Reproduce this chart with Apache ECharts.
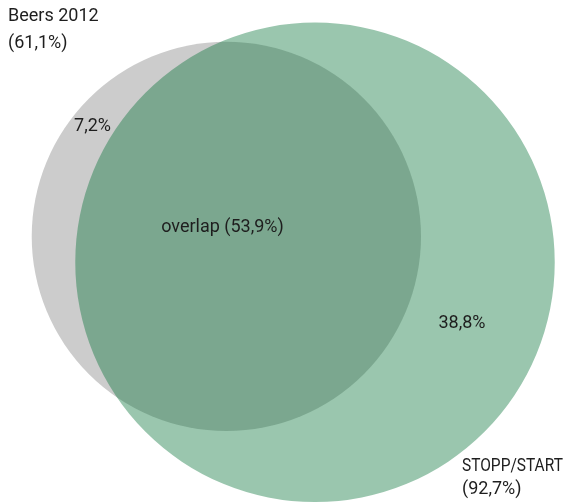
<!DOCTYPE html>
<html>
<head>
<meta charset="utf-8">
<script src="https://cdn.jsdelivr.net/npm/echarts@6/dist/echarts.min.js"></script>
<style>
html,body{margin:0;padding:0;background:#fff;}
#chart{width:563px;height:503px;}
</style>
</head>
<body>
<div id="chart"></div>
<script>
// ---- data ----
const setNames = ['Beers 2012', 'STOPP/START'];
const setPercents = [61.1, 92.7];
const overlapPercent = 53.9;
const overlapName = 'overlap';

// ---- helpers ----
function fmt(v) { return v.toFixed(1).replace('.', ','); }
function lensArea(r1, r2, d) {
  if (d >= r1 + r2) return 0;
  if (d <= Math.abs(r1 - r2)) return Math.PI * Math.min(r1, r2) ** 2;
  const a1 = Math.acos((d * d + r1 * r1 - r2 * r2) / (2 * d * r1));
  const a2 = Math.acos((d * d + r2 * r2 - r1 * r1) / (2 * d * r2));
  const t = Math.sqrt((-d + r1 + r2) * (d + r1 - r2) * (d - r1 + r2) * (d + r1 + r2));
  return r1 * r1 * a1 + r2 * r2 * a2 - 0.5 * t;
}

// area-proportional layout: circle area = PI * percent
const radii = setPercents.map(p => Math.sqrt(p));
const target = Math.PI * overlapPercent;
let lo = Math.abs(radii[0] - radii[1]), hi = radii[0] + radii[1];
for (let i = 0; i < 100; i++) {
  const mid = (lo + hi) / 2;
  if (lensArea(radii[0], radii[1], mid) > target) lo = mid; else hi = mid;
}
const dist = (lo + hi) / 2;
const angle = 16.3 * Math.PI / 180;
const centers = [
  [-dist * Math.cos(angle), dist * Math.sin(angle)],
  [0, 0]
];
const circleData = centers.map((c, i) => [c[0], c[1], radii[i], i]);

// pixel scale / placement (layout only)
const k = 24.9, cx = 315.0, cy = 262.3, W = 563, H = 503;

const chart = echarts.init(document.getElementById('chart'), null, { renderer: 'canvas' });
const fills = ['#cccccc', 'rgba(3,112,52,0.4)'];
const txt = '#1e1e1e';
const font = 'Roboto, sans-serif';
const fs = 18;

function label(text, x, y, align, sx) {
  return {
    type: 'text', x: x, y: y, z: 100, silent: true,
    scaleX: sx || 1,
    style: { text: text, fill: txt, font: fs + 'px ' + font, textAlign: align || 'left', textVerticalAlign: 'middle' }
  };
}

chart.setOption({
  animation: false,
  grid: { left: 0, top: 0, right: 0, bottom: 0, containLabel: false },
  xAxis: { type: 'value', min: -cx / k, max: (W - cx) / k, show: false },
  yAxis: { type: 'value', min: -(H - cy) / k, max: cy / k, show: false },
  series: [{
    type: 'custom',
    coordinateSystem: 'cartesian2d',
    z: 1,
    data: circleData,
    renderItem: function (params, api) {
      const c = api.coord([api.value(0), api.value(1)]);
      const r = api.size([api.value(2), 0])[0];
      return {
        type: 'circle',
        shape: { cx: c[0], cy: c[1], r: r },
        style: { fill: fills[api.value(3)] }
      };
    }
  }],
  graphic: [
    label(setNames[0], 8, 16.5),
    label('(' + fmt(setPercents[0]) + '%)', 8, 43.5),
    label(fmt(setPercents[0] - overlapPercent) + '%', 92.5, 126, 'center'),
    label(overlapName + ' (' + fmt(overlapPercent) + '%)', 222.5, 227.5, 'center'),
    label(fmt(setPercents[1] - overlapPercent) + '%', 462, 323, 'center'),
    label(setNames[1], 462, 466.5, 'left', 0.86),
    label('(' + fmt(setPercents[1]) + '%)', 462, 489)
  ]
});
</script>
</body>
</html>
